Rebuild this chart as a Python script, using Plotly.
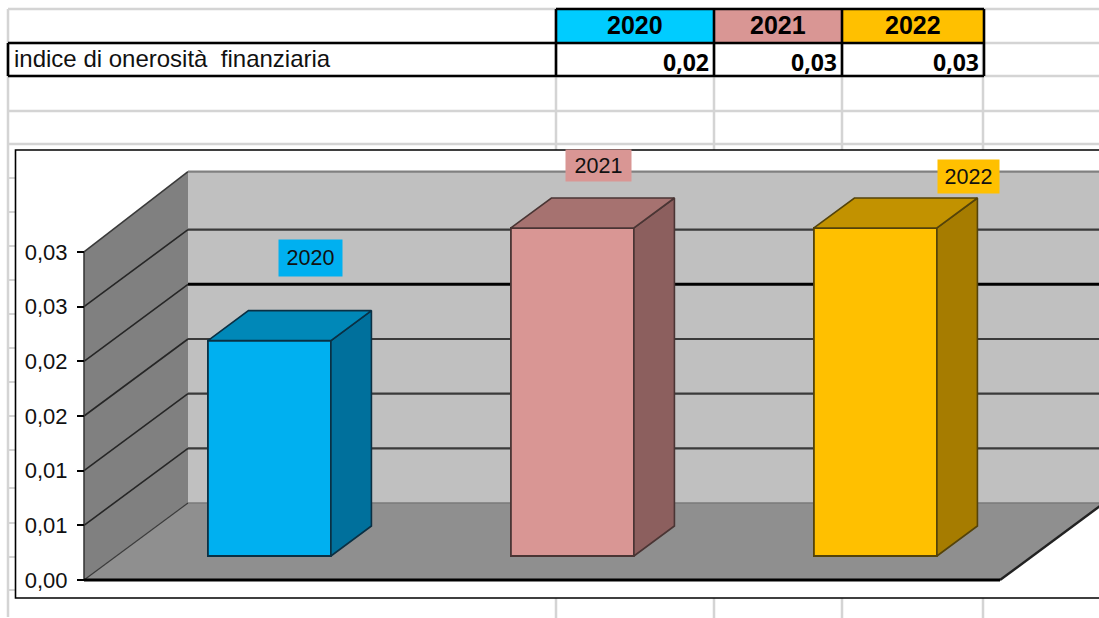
import plotly.graph_objects as go

# ---- data ----
YEARS = ["2020", "2021", "2022"]
VALUES = [0.0197, 0.03, 0.03]
ROW_LABEL = "indice di onerosit\u00e0 \u00a0finanziaria"
TICK_VALUES = [0, 0.005, 0.01, 0.015, 0.02, 0.025, 0.03]
TICK_TEXT = ["0,00", "0,01", "0,01", "0,02", "0,02", "0,03", "0,03"]

# ---- style ----
FRONT = ["#00B0F0", "#D99694", "#FFC000"]
SIDE = ["#00709C", "#8C5F5E", "#A67C00"]
TOP = ["#0088B8", "#A67270", "#C29200"]
EDGE = ["#0A3044", "#4A3534", "#54430A"]
HEADER = ["#00CCFF", "#D99694", "#FFC000"]
LABEL_SHIFT = [(41, 83), (26, 62), (93, 51)]
LABEL_BOX = [(63, 36), (65, 31), (61, 33)]
FONT = "Liberation Sans"
W, H = 1099, 618

# pixel scale of the two axes
PX_X, ORIGIN_X = 303.0, 237.0
PX_Y, ORIGIN_Y = 54.67 / 0.005, 580.0
DEPTH_X, DEPTH_Y = 104 / PX_X, 77 / PX_Y   # full floor depth in axis units
BAR_W = 123 / PX_X
D_FRONT, D_BACK = 24 / 77, 24 / 77 + 40.5 / 104   # bar depth on the floor
X_LEFT, X_RIGHT = (84 - ORIGIN_X) / PX_X, (1000 - ORIGIN_X) / PX_X
Y_MAX = 0.03
WALL_TOP = 0.0303


def proj(x, v, d):
    return x + d * DEPTH_X, v + d * DEPTH_Y


def path(pts):
    return "M " + " L ".join(f"{a} {b}" for a, b in pts) + " Z"


def px(x):
    return x / W


def py(y):
    return 1 - y / H


fig = go.Figure()
shapes = []
ann = []


def pline(x0, y0, x1, y1, color, width):
    shapes.append(dict(type="line", xref="paper", yref="paper", x0=px(x0), x1=px(x1),
                       y0=py(y0), y1=py(y1), line=dict(color=color, width=width), layer="below"))


def prect(x0, y0, x1, y1, fill, color=None, width=0):
    shapes.append(dict(type="rect", xref="paper", yref="paper", x0=px(x0), x1=px(x1),
                       y0=py(y0), y1=py(y1), fillcolor=fill,
                       line=dict(color=color or fill, width=width), layer="below"))


# spreadsheet grid
GREY = "#D4D4D4"
for gy in (9, 43, 76, 111, 144):
    pline(8, gy, W, gy, GREY, 2.5)
for gx in (556, 714, 842, 983):
    pline(gx, 9, gx, H, GREY, 2.5)
pline(8, 9, 8, H - 1, GREY, 2.5)
for gy in (178, 212, 246, 280, 314, 348, 382, 416, 450, 488, 523, 557, 590):
    pline(8, gy, 16, gy, GREY, 2)

# chart frame
prect(15.5, 150, W + 5, 598, "white", "black", 1.6)

# table
COLS = [556, 714, 842, 984]
for i, y_ in enumerate(YEARS):
    prect(COLS[i], 9, COLS[i + 1], 43, HEADER[i])
for yy in (43, 76):
    pline(8, yy, 984, yy, "black", 2.6)
pline(556, 9, 984, 9, "black", 2.6)
pline(8, 43, 8, 76, "black", 2.6)
for cx in COLS:
    pline(cx, 9, cx, 76, "black", 2.6)

ann.append(dict(xref="paper", yref="paper", x=px(12), y=py(58), text=ROW_LABEL, showarrow=False,
                xanchor="left", yanchor="middle", font=dict(family=FONT, size=24, color="#111")))
for i, y_ in enumerate(YEARS):
    ann.append(dict(xref="paper", yref="paper", x=px((COLS[i] + COLS[i + 1]) / 2), y=py(25.5),
                    text=f"<b>{y_}</b>", showarrow=False, xanchor="center", yanchor="middle",
                    font=dict(family=FONT, size=25, color="black")))
    ann.append(dict(xref="paper", yref="paper", x=px(COLS[i + 1] - 3), y=py(62),
                    text=f"<b>{VALUES[i]:.2f}</b>".replace(".", ","), showarrow=False,
                    xanchor="right", yanchor="middle",
                    font=dict(family="Open Sans", size=23, color="black")))


def dshape(pts, fill, color=None, width=0):
    shapes.append(dict(type="path", xref="x", yref="y", path=path(pts), fillcolor=fill,
                       line=dict(color=color or fill, width=width), layer="below"))


def dline(pts, color, width):
    shapes.append(dict(type="path", xref="x", yref="y",
                       path="M " + " L ".join(f"{a} {b}" for a, b in pts),
                       line=dict(color=color, width=width), layer="below"))


# walls and floor
dshape([proj(X_LEFT, 0, 1), proj(X_RIGHT, 0, 1), proj(X_RIGHT, WALL_TOP, 1), proj(X_LEFT, WALL_TOP, 1)], "#C0C0C0")
dshape([proj(X_LEFT, 0, 0), proj(X_LEFT, 0, 1), proj(X_LEFT, WALL_TOP, 1), proj(X_LEFT, Y_MAX, 0)], "#808080")
dshape([proj(X_LEFT, 0, 0), proj(X_RIGHT, 0, 0), proj(X_RIGHT, 0, 1), proj(X_LEFT, 0, 1)], "#8F8F8F")

# gridlines: side wall thin, back wall heavier
for tv in TICK_VALUES[1:-1]:
    strong = tv == 0.02
    dline([proj(X_LEFT, tv, 0), proj(X_LEFT, tv, 1)], "#262626", 1.6)
    dline([proj(X_LEFT, tv, 1), proj(X_RIGHT, tv, 1)], "#000000" if strong else "#3A3A3A", 3 if strong else 2.2)
dline([proj(X_LEFT, Y_MAX, 0), proj(X_LEFT, WALL_TOP, 1)], "#3A3A3A", 1.6)
dline([proj(X_LEFT, WALL_TOP, 1), proj(X_RIGHT, WALL_TOP, 1)], "#808080", 2.2)
dline([proj(X_LEFT, 0, 0), proj(X_LEFT, 0, 1)], "#3A3A3A", 1.2)
dline([proj(X_LEFT, 0, 1), proj(X_RIGHT, 0, 1)], "#7A7A7A", 1.5)
dline([proj(X_RIGHT, 0, 0), proj(X_RIGHT, 0, 1)], "#222222", 2.4)
dline([proj(X_LEFT, 0, 0), proj(X_LEFT, Y_MAX, 0)], "#333333", 1.5)
dline([proj(X_LEFT, 0, 0), proj(X_RIGHT, 0, 0)], "#000000", 2.8)

# bars
for i, (yr, v) in enumerate(zip(YEARS, VALUES)):
    fx, fb = proj(i, 0, D_FRONT)
    fig.add_trace(go.Bar(x=[fx], y=[v], base=[fb], width=[BAR_W], name=yr,
                         marker=dict(color=FRONT[i], line=dict(color=EDGE[i], width=1.8)),
                         showlegend=False, hoverinfo="skip"))
    l, r = i - BAR_W / 2, i + BAR_W / 2
    side = [proj(r, 0, D_FRONT), proj(r, 0, D_BACK), proj(r, v, D_BACK), proj(r, v, D_FRONT), proj(r, 0, D_FRONT)]
    top = [proj(l, v, D_FRONT), proj(r, v, D_FRONT), proj(r, v, D_BACK), proj(l, v, D_BACK), proj(l, v, D_FRONT)]
    for pts, col in ((side, SIDE[i]), (top, TOP[i])):
        fig.add_trace(go.Scatter(x=[p[0] for p in pts], y=[p[1] for p in pts], mode="lines",
                                 fill="toself", fillcolor=col, line=dict(color=EDGE[i], width=1.6),
                                 showlegend=False, hoverinfo="skip"))
    lx, ly = proj(i, v, D_FRONT)
    ann.append(dict(xref="x", yref="y", x=lx, y=ly, text=yr, showarrow=False,
                    xshift=LABEL_SHIFT[i][0], yshift=LABEL_SHIFT[i][1],
                    width=LABEL_BOX[i][0], height=LABEL_BOX[i][1],
                    xanchor="center", yanchor="middle", bgcolor=FRONT[i], borderpad=0,
                    font=dict(family=FONT, size=21.5, color="#111")))

fig.update_layout(
    width=W, height=H, margin=dict(l=0, r=0, t=0, b=0), paper_bgcolor="white", plot_bgcolor="rgba(0,0,0,0)",
    barmode="overlay", showlegend=False, shapes=shapes, annotations=ann,
    xaxis=dict(range=[-ORIGIN_X / PX_X, (W - ORIGIN_X) / PX_X], visible=False, domain=[0, 1]),
    yaxis=dict(range=[(ORIGIN_Y - H) / PX_Y, ORIGIN_Y / PX_Y], domain=[0, 1], anchor="free", position=84 / W,
               tickvals=TICK_VALUES, ticktext=TICK_TEXT, ticks="outside", ticklen=7, tickwidth=2,
               tickcolor="black", showgrid=False, zeroline=False, showline=False, ticklabelstandoff=5,
               tickfont=dict(family=FONT, size=22, color="#111")),
)
fig.write_html("out.html", config=dict(displayModeBar=False),
               post_script="document.body.style.margin='0';document.body.style.overflow='hidden';")
